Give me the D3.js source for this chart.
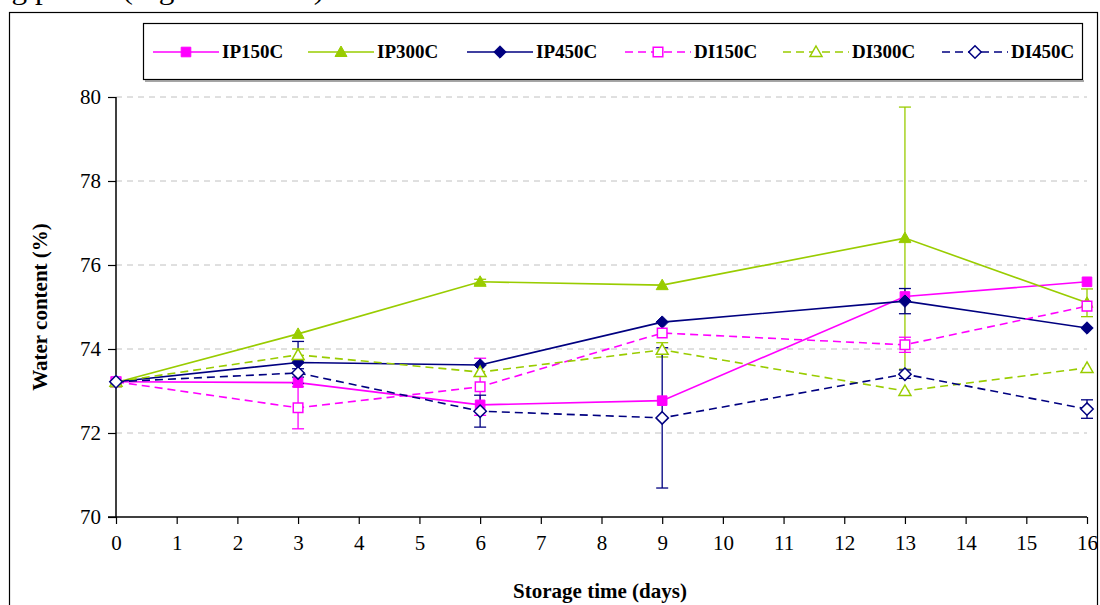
<!DOCTYPE html>
<html><head><meta charset="utf-8">
<script src="https://cdn.jsdelivr.net/npm/d3@7"></script>
<style>html,body{margin:0;padding:0;background:#fff;overflow:hidden}svg{display:block}svg text{font-family:"Liberation Serif","Times New Roman",serif !important}</style>
</head><body><svg id="c" width="1100" height="605"></svg>
<script>
const days = [0, 3, 6, 9, 13, 16];
const seriesNames = ["IP150C", "IP300C", "IP450C", "DI150C", "DI300C", "DI450C"];
const ip150 = [73.22, 73.20, 72.67, 72.77, 75.25, 75.60];
const ip300 = [73.20, 74.36, 75.60, 75.52, 76.64, 75.10];
const ip450 = [73.22, 73.68, 73.62, 74.64, 75.14, 74.50];
const di150 = [73.22, 72.60, 73.10, 74.38, 74.10, 75.02];
const di300 = [73.22, 73.86, 73.45, 73.98, 73.00, 73.55];
const di450 = [73.22, 73.43, 72.52, 72.36, 73.40, 72.57];
const ip150Err = [null, null, null, null, null, null];
const ip300Err = [null, null, 0.06, null, 3.12, 0.33];
const ip450Err = [null, 0.50, null, null, 0.30, null];
const di150Err = [null, 0.50, 0.68, null, 0.18, null];
const di300Err = [null, 0.14, null, 0.17, null, null];
const di450Err = [null, 0.10, 0.38, 1.67, 0.10, 0.22];
const xTicks = d3.range(0, 17);
const yTicks = [70, 72, 74, 76, 78, 80];

const styles = [
  {color:"#FF00FF", dash:null, shape:"square", fill:true},
  {color:"#99CC00", dash:null, shape:"triangle", fill:true},
  {color:"#000080", dash:null, shape:"diamond", fill:true},
  {color:"#FF00FF", dash:"8,5", shape:"square", fill:false},
  {color:"#99CC00", dash:"8,5", shape:"triangle", fill:false},
  {color:"#000080", dash:"8,5", shape:"diamond", fill:false}
];
const values = [ip150, ip300, ip450, di150, di300, di450];
const errs = [ip150Err, ip300Err, ip450Err, di150Err, di300Err, di450Err];

const svg = d3.select("#c");
// partial top text (clipped at page top as in the reference)
svg.append("text").attr("x", -4).attr("y", -1).attr("font-size", 27)
  .attr("textLength", 336).attr("lengthAdjust", "spacingAndGlyphs")
  .text("ng period (Figure 5 and 6).");
// outer frame
svg.append("rect").attr("x", 9.5).attr("y", 12.5).attr("width", 1088).attr("height", 640)
  .attr("fill", "none").attr("stroke", "#000").attr("stroke-width", 1.2);

const x = d3.scaleLinear().domain([0, 16]).range([116, 1087]);
const y = d3.scaleLinear().domain([70, 80]).range([517, 97]);

svg.append("g").selectAll("line").data(yTicks.filter(v => v > 70)).join("line")
  .attr("x1", x(0)).attr("x2", x(16)).attr("y1", d => y(d)).attr("y2", d => y(d))
  .attr("stroke", "#c0c0c0").attr("stroke-dasharray", "6,5").attr("stroke-width", 1);

const yAxis = d3.axisLeft(y).tickValues(yTicks).tickSize(8).tickPadding(7).tickFormat(d3.format("d"));
const gy = svg.append("g").attr("transform", `translate(${x(0)},0)`).call(yAxis);
const xAxis = d3.axisBottom(x).tickValues(xTicks).tickSize(7).tickPadding(11).tickFormat(d3.format("d"));
const gx = svg.append("g").attr("transform", `translate(0,${y(70)})`).call(xAxis);
[gx, gy].forEach(g => {
  g.select(".domain").attr("stroke", "#000").attr("stroke-width", 1.5);
  g.selectAll(".tick line").attr("stroke", "#000").attr("stroke-width", 1.2);
  g.selectAll(".tick text").attr("font-size", 21).attr("fill", "#000");
});
gx.select(".domain").attr("d", `M${x(0)},0H${x(16)}`);
gy.select(".domain").attr("d", `M0,${y(80)}V${y(70)}`);
svg.append("line").attr("x1", x(0) - 8).attr("x2", x(0)).attr("y1", y(70)).attr("y2", y(70))
  .attr("stroke", "#000").attr("stroke-width", 1.5);

svg.append("text").attr("x", 600).attr("y", 598)
  .attr("text-anchor", "middle").attr("font-size", 21).attr("font-weight", "bold").text("Storage time (days)");
svg.append("text").attr("transform", `translate(47,${(y(80) + y(70)) / 2}) rotate(-90)`)
  .attr("text-anchor", "middle").attr("font-size", 21).attr("font-weight", "bold").text("Water content (%)");

function markerPath(shape) {
  if (shape === "square") return "M-4.8,-4.8H4.8V4.8H-4.8Z";
  if (shape === "triangle") return "M0,-6L6,4.5H-6Z";
  return "M0,-6.2L6.2,0L0,6.2L-6.2,0Z";
}

const line = d3.line().x((d, i) => x(days[i])).y(d => y(d));
values.forEach((vals, si) => {
  const st = styles[si];
  svg.append("path").datum(vals).attr("d", line).attr("fill", "none")
    .attr("stroke", st.color).attr("stroke-width", 1.6)
    .attr("stroke-dasharray", st.dash);
});
values.forEach((vals, si) => {
  const st = styles[si];
  const g = svg.append("g").attr("stroke", st.color).attr("stroke-width", 1.3);
  vals.forEach((v, i) => {
    const e = errs[si][i];
    if (e == null) return;
    const cx = x(days[i]);
    g.append("line").attr("x1", cx).attr("x2", cx).attr("y1", y(v + e)).attr("y2", y(v - e));
    [v + e, v - e].forEach(t => g.append("line").attr("x1", cx - 6).attr("x2", cx + 6).attr("y1", y(t)).attr("y2", y(t)));
  });
});
values.forEach((vals, si) => {
  const st = styles[si];
  svg.append("g").selectAll("path").data(vals).join("path")
    .attr("d", markerPath(st.shape))
    .attr("transform", (d, i) => `translate(${x(days[i])},${y(d)})`)
    .attr("fill", st.fill ? st.color : "#fff")
    .attr("stroke", st.color).attr("stroke-width", st.fill ? 1 : 1.5);
});

svg.append("rect").attr("x", 143.5).attr("y", 23.5).attr("width", 939).attr("height", 56)
  .attr("fill", "#fff").attr("stroke", "#000").attr("stroke-width", 1.2);
svg.append("line").attr("x1", 145).attr("x2", 1084).attr("y1", 81).attr("y2", 81).attr("stroke", "#888").attr("stroke-width", 1.5);
const legX = [153, 308, 467, 625, 783, 942];
const legY = 52;
seriesNames.forEach((name, si) => {
  const st = styles[si];
  const lx = legX[si];
  const g = svg.append("g");
  g.append("line").attr("x1", lx).attr("x2", lx + 66).attr("y1", legY).attr("y2", legY)
    .attr("stroke", st.color).attr("stroke-width", 1.6).attr("stroke-dasharray", st.dash);
  g.append("path").attr("d", markerPath(st.shape)).attr("transform", `translate(${lx + 33},${legY})`)
    .attr("fill", st.fill ? st.color : "#fff").attr("stroke", st.color).attr("stroke-width", st.fill ? 1 : 1.5);
  g.append("text").attr("x", lx + 69).attr("y", legY + 6).attr("font-size", 19).attr("font-weight", "bold").text(name);
});
</script></body></html>
